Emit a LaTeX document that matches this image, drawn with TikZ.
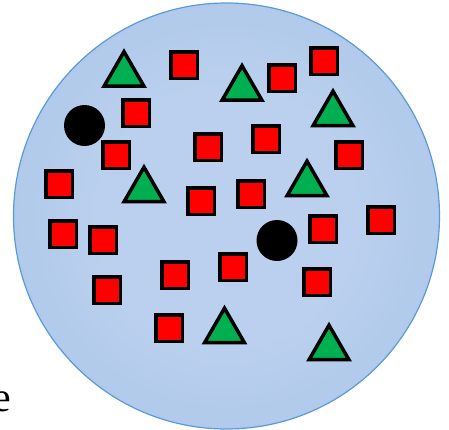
\documentclass[tikz,border=0pt]{standalone}
\usepackage{fontspec}
\setmainfont{Liberation Serif}
\usetikzlibrary{shapes.geometric}
\definecolor{discin}{RGB}{186,208,238}
\definecolor{discout}{RGB}{155,186,226}
\definecolor{discline}{RGB}{91,155,213}
\definecolor{sqred}{RGB}{255,0,0}
\definecolor{trigreen}{RGB}{0,176,80}
\pgfdeclareradialshading{discshade}{\pgfpoint{0bp}{0bp}}{%
  color(0bp)=(discin); color(15bp)=(discin); color(50bp)=(discout)}

\begin{document}
\begin{tikzpicture}[x=1pt, y=-1pt,
      sq/.style={draw, line width=3.5pt, fill=sqred, inner sep=0pt, minimum size=26.5pt},
      tri/.style={draw, line width=3.5pt, fill=trigreen, regular polygon, regular polygon sides=3,
        inner sep=0pt, minimum size=46pt},
      dot/.style={circle, fill=black, inner sep=0pt, minimum size=41pt}]
    \useasboundingbox (0,0) rectangle (449,429);
    % the big disc
    \shade[shading=discshade] (226.5,216) circle[radius=213];
    \draw[discline, line width=1.2pt] (226.5,216) circle[radius=213];
    % squares
    \foreach \x/\y [count=\i] in {184/65, 282/78, 324/61, 136/113, 116/155, 208/147, 266/139,
        349/155, 59/184, 201/201, 251/194, 381/220, 323/229, 63/234, 103/240, 175/275,
        233/267, 107/290, 317/282, 169/328}
      \node[sq] (sq\i) at (\x,\y) {};
    % triangles
    \foreach \x/\y [count=\i] in {124/74.7, 242/88.7, 333/114.2, 144/190.2, 307/184.2,
        224.5/331.2, 329/348.2}
      \node[tri] (tri\i) at (\x,\y) {};
    % dots
    \node[dot] (dot1) at (84.5,125.5) {};
    \node[dot] (dot2) at (277,240.5) {};
    % cut-off label
    \node[anchor=base west, inner sep=0pt, font=\fontsize{42}{48}\selectfont] (lbl) at (-8,411) {e};
  \end{tikzpicture}
\end{document}
